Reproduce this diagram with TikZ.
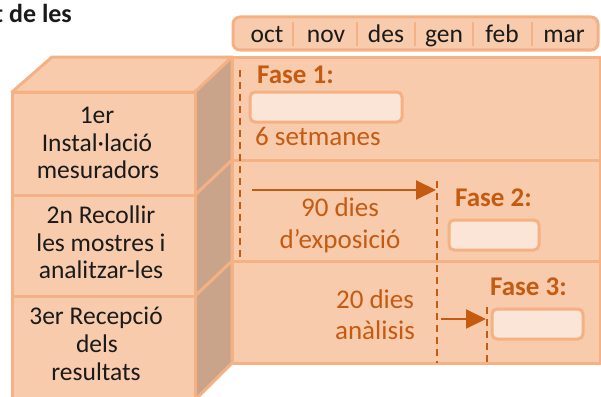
\documentclass[tikz,border=0pt]{standalone}
\usepackage{fontspec}
\setmainfont{Carlito}
\usetikzlibrary{arrows.meta}
\definecolor{peach}{HTML}{F8CBAD}
\definecolor{edge}{HTML}{F4B183}
\definecolor{sidec}{HTML}{C9A48B}
\definecolor{rust}{HTML}{C55A11}
\definecolor{pale}{HTML}{FBE5D6}
\definecolor{ink}{HTML}{1A1A1A}
\begin{document}
\begin{tikzpicture}[x=1pt,y=-1pt,
  face/.style={fill=peach,draw=edge,line width=3pt,line join=round},
  sideface/.style={fill=sidec,draw=edge,line width=3pt,line join=round},
  slot/.style={fill=pale,draw=edge,line width=3pt,rounded corners=5pt},
  phase/.style={font=\fontsize{27}{30}\selectfont\bfseries,text=rust,anchor=base west,inner sep=0pt},
  note/.style={font=\fontsize{27}{30}\selectfont,text=rust,anchor=base,inner sep=0pt},
  stage/.style={font=\fontsize{25.5}{28}\selectfont,text=ink,anchor=base,inner sep=0pt},
  month/.style={font=\fontsize{25.5}{28}\selectfont,text=ink,anchor=base,inner sep=0pt},
  dashline/.style={draw=rust,line width=2.5pt,dash pattern=on 7pt off 5pt},
  flow/.style={draw=rust,line width=2pt,-{Triangle[length=20pt,width=19pt]}}
]
\useasboundingbox (0,0) rectangle (601,396);

% title fragment
\node[anchor=base west,font=\fontsize{26}{30}\selectfont\bfseries,text=ink,inner sep=0pt] (title) at (-6,23) {t de les};

% month bar
\draw[face,rounded corners=7pt] (233,17) rectangle (598,50);
\foreach \x in {293,357,415,473,532}{\draw[edge,line width=2pt] (\x,22) -- (\x,46);}
\node[month] (oct) at (267,42) {oct};
\node[month] (nov) at (326,42) {nov};
\node[month] (des) at (386,42) {des};
\node[month] (gen) at (444,42) {gen};
\node[month] (feb) at (502,42) {feb};
\node[month] (mar) at (564,42) {mar};

% timeline panel
\draw[face] (232,57) rectangle (600,363);
\draw[edge,line width=3pt] (232,160) -- (600,160);
\draw[edge,line width=3pt] (232,261) -- (600,261);

% 3D box
\draw[face] (12,92) -- (52,57) -- (232,57) -- (195,92) -- cycle;
\draw[sideface] (195,92) -- (232,57) -- (232,363) -- (195,400) -- cycle;
\draw[edge,line width=3pt] (195,195) -- (232,160);
\draw[edge,line width=3pt] (195,296) -- (232,261);
\draw[face] (12,92) rectangle (195,400);
\draw[edge,line width=3pt] (12,195) -- (195,195);
\draw[edge,line width=3pt] (12,296) -- (195,296);

% stage labels
\node[stage] (s1a) at (97,123) {1er};
\node[stage] (s1b) at (97,151) {Instal·lació};
\node[stage] (s1c) at (98,178) {mesuradors};
\node[stage] (s2a) at (101,223) {2n Recollir};
\node[stage] (s2b) at (101,251) {les mostres i};
\node[stage] (s2c) at (101,278) {analitzar-les};
\node[stage] (s3a) at (96,324) {3er Recepció};
\node[stage] (s3b) at (97,352) {dels};
\node[stage] (s3c) at (96,380) {resultats};

% phase 1
\node[phase] (f1) at (257,83) {Fase 1:};
\draw[slot] (250,92) rectangle (402,122);
\node[font=\fontsize{27}{30}\selectfont,text=rust,anchor=base west,inner sep=0pt] (w6) at (255,145) {6 setmanes};

% phase 2
\node[phase] (f2) at (455,206) {Fase 2:};
\draw[slot] (449,220) rectangle (539,250);
\node[note] (d90a) at (340,216) {90 dies};
\node[note] (d90b) at (340,248) {d’exposició};

% phase 3
\node[phase] (f3) at (490,295) {Fase 3:};
\draw[slot] (492,309) rectangle (583,339);
\node[note] (d20a) at (375,308) {20 dies};
\node[note] (d20b) at (375,339) {anàlisis};

% dashed guides
\coordinate (gAt) at (240,70);  \coordinate (gAb) at (240,257);
\coordinate (gBt) at (437,181); \coordinate (gBb) at (437,363);
\coordinate (gCt) at (487,307); \coordinate (gCb) at (487,363);
\draw[dashline] (gAt) -- (gAb);
\draw[dashline] (gBt) -- (gBb);
\draw[dashline] (gCt) -- (gCb);

% arrows
\coordinate (a1s) at (252,190); \coordinate (a1e) at (436,190);
\coordinate (a2s) at (441,319); \coordinate (a2e) at (486,319);
\draw[flow] (a1s) -- (a1e);
\draw[flow] (a2s) -- (a2e);
\end{tikzpicture}
\end{document}
